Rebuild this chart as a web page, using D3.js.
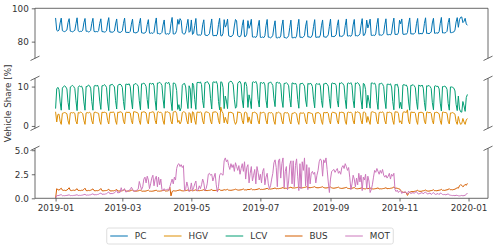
<!DOCTYPE html>
<html>
<head>
<meta charset="utf-8">
<script src="https://cdn.jsdelivr.net/npm/d3@7"></script>
<style>
  body { margin: 0; background: #fff; }
  svg { display: block; font-family: "DejaVu Sans", sans-serif; }
</style>
</head>
<body>
<svg width="500" height="251"></svg>
<script>
// daily values, one row per week (Tue..Mon), starting 2019-01-01
var startDay = "2019-01-01";
var seriesNames = ["PC", "HGV", "LCV", "BUS", "MOT"];
var seriesColors = ["#0173b2", "#de8f05", "#029e73", "#d55e00", "#cc78bc"];
var xTickLabels = ["2019-01", "2019-03", "2019-05", "2019-07", "2019-09", "2019-11", "2020-01"];
var topTicks = [80, 100];
var midTicks = [0, 10];
var botTicks = [0, 2.5, 5.0];

var pc = [
94.2,86.8,86.3,86.9,91.2,94.1,86.6,
86.2,86.0,86.4,87.0,91.5,93.8,86.3,
86.1,85.9,86.3,86.8,90.8,94.3,86.5,
86.0,86.2,86.1,86.9,91.3,93.9,86.2,
86.3,85.8,86.0,86.7,91.0,94.0,86.1,
85.9,86.1,85.8,86.6,90.9,93.7,86.0,
86.0,85.7,85.9,86.5,91.2,94.4,85.8,
85.8,85.6,85.9,86.4,90.6,93.6,85.9,
85.7,85.5,85.8,86.5,91.0,94.1,85.6,
85.5,85.6,85.4,86.2,90.5,93.5,85.5,
85.4,85.2,85.6,86.0,90.8,94.0,85.3,
85.2,85.0,85.3,85.9,90.2,93.2,85.1,
85.0,85.3,84.9,85.6,90.6,94.2,84.8,
84.9,84.6,84.8,85.5,90.0,93.0,84.7,
84.5,84.8,84.4,85.4,90.9,94.5,84.6,
84.6,84.9,86.8,93.3,90.4,93.8,92.6,
85.2,84.7,84.5,85.8,89.8,93.4,85.6,
86.3,93.0,84.3,85.1,89.6,93.9,84.2,
83.9,84.1,83.7,84.6,90.1,93.1,84.0,
83.8,83.6,84.0,84.8,89.5,93.6,83.7,
83.5,83.8,83.4,84.5,90.3,94.0,83.6,
83.4,85.0,93.2,88.7,90.2,93.5,83.5,
83.2,83.0,83.4,84.3,89.4,93.3,92.4,
83.6,83.1,82.9,84.0,89.8,93.1,83.0,
83.1,84.5,92.6,88.0,89.9,93.4,82.8,
82.7,82.9,82.5,83.6,89.2,92.8,82.6,
82.5,82.8,82.4,83.5,89.6,93.3,82.7,
82.6,82.3,82.7,83.8,88.9,92.5,82.4,
82.2,82.6,82.3,83.4,89.4,93.0,82.5,
82.4,82.1,82.5,83.6,88.6,92.9,82.3,
82.3,82.6,82.2,83.3,89.1,93.4,82.6,
82.7,82.4,82.8,83.7,89.3,92.6,82.8,
82.9,82.5,82.7,84.0,89.0,93.2,82.6,
82.6,82.9,82.5,83.9,89.5,93.0,82.9,
82.8,82.6,83.0,84.1,89.2,93.5,83.0,
83.1,83.0,83.3,84.2,89.8,93.1,83.2,
83.3,83.1,83.5,84.4,89.6,93.6,83.4,
83.4,83.6,83.2,84.3,90.0,93.3,83.5,
83.6,83.4,83.8,84.7,89.9,93.8,83.7,
83.9,85.8,92.9,88.2,90.3,93.5,83.8,
83.7,83.9,83.6,84.6,90.4,94.0,83.9,
84.0,83.8,84.1,85.0,90.1,93.7,84.2,
84.1,84.3,84.0,85.1,90.6,94.1,84.3,
84.4,84.2,85.3,92.8,90.7,93.6,84.5,
84.3,84.6,84.4,85.4,90.5,94.2,84.6,
84.7,84.5,84.8,85.5,90.8,93.9,84.6,
84.8,84.9,84.6,85.7,90.9,94.3,84.9,
85.0,84.8,85.1,85.8,91.2,94.0,85.0,
85.1,85.3,85.0,86.0,91.0,94.5,85.2,
85.3,85.2,85.5,86.2,91.4,94.1,85.4,
85.4,85.6,85.8,86.9,91.8,94.4,88.6,
93.2,94.6,94.8,91.4,92.2,94.0,90.6,
89.8];

var hgv = [
3.6,1.0,2.9,3.0,1.2,0.4,3.2,
3.3,3.4,3.3,3.1,1.3,0.4,3.3,
3.4,3.3,3.4,3.2,1.2,0.5,3.4,
3.3,3.5,3.4,3.1,1.4,0.4,3.3,
3.4,3.3,3.5,3.2,1.3,0.5,3.4,
3.5,3.4,3.3,3.2,1.2,0.4,3.5,
3.4,3.5,3.4,3.3,1.4,0.5,3.4,
3.5,3.4,3.6,3.2,1.3,0.4,3.5,
3.4,3.6,3.5,3.3,1.2,0.5,3.4,
3.5,3.4,3.5,3.3,1.4,0.5,3.6,
3.6,3.5,3.4,3.2,1.3,0.4,3.5,
3.5,3.6,3.5,3.3,1.2,0.5,3.4,
3.4,3.5,3.6,3.4,1.4,0.5,3.5,
3.6,3.4,3.5,3.2,1.3,0.4,3.6,
3.5,3.6,3.4,3.3,1.2,0.5,3.5,
3.6,3.7,3.2,0.9,1.4,0.5,1.1,
3.4,3.6,3.5,3.3,1.3,0.5,3.4,
3.1,0.8,3.6,3.4,1.4,0.4,3.5,
3.5,3.4,3.6,3.3,1.3,0.5,3.4,
3.6,3.5,3.4,3.2,1.2,0.5,3.5,
3.5,3.6,3.5,3.3,1.4,0.5,4.8,
3.7,3.2,0.8,2.2,1.3,0.5,3.5,
3.4,3.5,3.3,3.2,1.2,0.4,1.0,
3.6,3.4,3.5,3.2,1.3,0.5,3.4,
3.5,3.3,0.9,2.3,1.2,0.5,3.4,
3.4,3.5,3.3,3.1,1.3,0.5,3.5,
3.3,3.4,3.5,3.2,1.4,0.5,3.3,
3.4,3.3,3.4,3.1,1.2,0.4,3.4,
3.3,3.5,3.3,3.2,1.3,0.5,3.3,
3.4,3.3,3.4,3.0,1.2,0.5,3.2,
3.2,3.4,3.3,3.1,1.3,0.4,3.3,
3.3,3.2,3.4,3.0,1.2,0.5,3.4,
3.4,3.3,3.2,3.1,1.3,0.5,3.3,
3.3,3.4,3.3,3.0,1.2,0.4,3.4,
3.4,3.3,3.5,3.2,1.4,0.5,3.3,
3.5,3.4,3.3,3.2,1.3,0.5,3.5,
3.4,3.5,3.4,3.3,1.2,0.4,3.4,
3.5,3.4,3.5,3.2,1.3,0.5,3.6,
3.4,3.6,3.4,3.3,1.4,0.5,3.5,
3.5,3.3,0.9,2.4,1.3,0.4,3.5,
3.6,3.5,3.4,3.3,1.2,0.5,3.4,
3.5,3.4,3.6,3.2,1.3,0.5,3.5,
3.4,3.5,3.4,3.3,1.4,0.4,3.6,
3.5,3.6,3.2,0.9,1.3,0.5,3.4,
3.6,3.5,3.4,4.1,1.2,0.5,3.5,
3.5,3.4,3.5,3.2,1.3,0.4,3.4,
3.4,3.5,3.4,3.3,1.2,0.5,3.5,
3.5,3.3,3.5,3.2,1.4,0.5,3.4,
3.4,3.5,3.3,3.1,1.3,0.4,3.5,
3.5,3.4,3.4,3.2,1.2,0.5,3.3,
3.3,3.4,3.2,3.0,1.1,0.4,2.4,
1.1,0.4,0.6,1.9,1.0,0.4,1.5,
1.9];

var lcv = [
4.4,9.4,9.8,9.2,6.1,4.0,9.6,
10.0,10.2,9.9,9.4,6.0,4.1,9.9,
10.1,10.3,10.0,9.5,6.4,3.9,9.8,
10.2,10.0,10.1,9.4,6.1,4.0,10.0,
10.0,10.4,10.2,9.6,6.2,4.0,10.1,
10.3,10.1,10.4,9.7,6.3,4.2,10.2,
10.2,10.5,10.3,9.8,6.1,3.9,10.4,
10.4,10.6,10.3,9.9,6.5,4.3,10.3,
10.5,10.6,10.4,9.8,6.2,4.1,10.6,
10.6,10.5,10.7,10.0,6.6,4.3,10.5,
10.6,10.8,10.5,10.1,6.4,4.1,10.7,
10.7,10.9,10.6,10.0,6.7,4.4,10.8,
10.8,10.6,10.9,10.2,6.5,4.0,10.9,
10.9,11.1,10.8,10.3,6.8,4.5,10.9,
11.0,10.8,11.1,10.2,6.3,3.9,10.9,
10.9,10.6,9.0,4.2,5.4,3.8,4.6,
10.3,10.7,10.8,9.9,6.6,4.4,10.2,
9.4,4.5,10.9,10.3,6.7,4.2,11.0,
11.1,10.9,11.2,10.5,6.4,4.6,11.0,
11.0,11.3,10.9,10.4,6.9,4.3,11.1,
11.2,11.0,11.3,10.6,6.2,4.1,11.2,
11.1,9.8,4.4,7.6,6.3,4.4,11.0,
11.2,11.4,11.1,10.5,6.8,4.5,4.9,
10.8,11.2,11.3,10.6,6.6,4.6,11.0,
11.1,10.0,4.7,7.9,6.5,4.4,11.1,
11.2,11.0,11.3,10.6,6.7,4.8,11.0,
11.0,10.8,11.1,10.4,6.5,4.6,10.9,
10.9,11.2,10.8,10.3,6.9,4.9,11.0,
11.1,10.9,11.0,10.5,6.6,4.7,10.8,
10.8,11.0,10.7,10.2,7.0,4.8,10.9,
10.9,10.6,10.9,10.3,6.7,4.5,10.7,
10.7,10.9,10.6,10.1,6.6,4.9,10.8,
10.6,10.8,10.7,10.0,6.8,4.6,10.6,
10.8,10.5,10.8,10.2,6.5,4.7,10.7,
10.7,10.9,10.6,10.1,6.9,4.5,10.8,
10.9,10.7,10.8,10.3,6.4,4.8,10.9,
10.8,11.0,10.7,10.2,6.7,4.4,10.8,
10.9,10.7,11.0,10.3,6.5,4.6,10.9,
10.8,11.0,10.7,10.1,6.6,4.3,10.8,
10.6,9.2,4.6,7.8,6.3,4.5,10.9,
10.9,10.7,10.9,10.2,6.4,4.2,10.7,
10.7,10.9,10.6,10.0,6.6,4.4,10.6,
10.6,10.5,10.7,9.9,6.2,4.1,10.5,
10.4,10.6,9.6,4.5,6.0,4.3,10.4,
10.5,10.3,10.4,9.8,6.1,4.0,10.3,
10.3,10.5,10.2,9.7,6.3,4.2,10.4,
10.2,10.1,10.4,9.6,6.0,3.9,10.2,
10.1,10.3,10.0,9.5,5.9,4.1,10.1,
10.2,10.0,10.1,9.4,5.8,3.8,10.0,
10.0,10.1,9.9,9.3,5.7,4.0,9.9,
9.9,9.8,9.6,8.9,5.5,3.9,7.6,
4.3,3.6,3.5,6.2,5.1,3.7,7.2,
8.0];

var bus = [
0.0,1.0,0.9,0.85,0.95,1.05,0.85,
0.82,0.84,0.8,0.86,0.95,1.1,0.83,
0.8,0.83,0.85,0.82,0.9,1.0,0.81,
0.82,0.8,0.84,0.83,0.92,1.05,0.8,
0.79,0.82,0.8,0.84,0.9,0.98,0.8,
0.78,0.8,0.79,0.82,0.88,1.02,0.79,
0.77,0.79,0.8,0.81,0.86,0.95,0.78,
0.76,0.78,0.77,0.8,0.85,0.92,0.77,
0.75,0.77,0.76,0.79,0.84,0.9,0.76,
0.74,0.76,0.75,0.78,0.83,0.88,0.75,
0.75,0.74,0.76,0.77,0.82,0.86,0.74,
0.73,0.75,0.74,0.76,0.8,0.85,0.74,
0.74,0.73,0.75,0.77,0.81,0.84,0.75,
0.75,0.74,0.76,0.78,0.82,0.86,0.76,
0.76,0.77,0.8,1.15,0.25,0.7,0.78,
0.77,0.76,0.78,0.82,0.84,0.88,0.8,
0.78,0.77,0.79,0.8,0.83,0.87,0.78,
0.79,0.84,0.78,0.8,0.84,0.88,0.79,
0.8,0.79,0.81,0.82,0.85,0.9,0.8,
0.81,0.8,0.82,0.83,0.86,0.91,0.81,
0.82,0.81,0.83,0.84,0.88,0.92,0.82,
0.83,0.84,0.9,0.86,0.89,0.93,0.84,
0.84,0.83,0.85,0.87,0.9,0.95,0.9,
0.86,0.85,0.87,0.88,0.92,0.97,0.87,
0.88,0.87,0.93,0.9,0.94,0.99,0.89,
0.9,0.89,0.91,0.93,0.96,1.01,0.92,
0.93,0.92,0.94,0.96,0.99,1.04,0.95,
0.97,0.96,0.98,1.0,1.03,1.08,0.99,
1.01,1.0,1.02,1.04,1.07,1.12,1.03,
1.05,1.04,1.06,1.08,1.11,1.16,1.07,
1.08,1.07,1.09,1.11,1.14,1.19,1.1,
1.1,1.09,1.11,1.13,1.16,1.2,1.12,
1.11,1.1,1.12,1.14,1.17,1.21,1.12,
1.1,1.09,1.11,1.13,1.16,1.2,1.11,
1.08,1.07,1.09,1.11,1.14,1.18,1.09,
1.06,1.05,1.07,1.09,1.12,1.16,1.07,
1.04,1.03,1.05,1.07,1.1,1.14,1.05,
1.02,1.01,1.03,1.05,1.08,1.12,1.03,
1.0,0.99,1.01,1.03,1.06,1.1,1.01,
0.99,0.98,1.04,1.0,1.04,1.08,0.99,
0.98,0.97,0.99,1.01,1.04,1.08,0.98,
0.99,0.98,1.0,1.02,1.05,1.1,1.0,
1.02,1.01,1.04,1.06,1.1,1.18,1.05,
1.06,1.04,1.0,0.98,0.82,0.7,0.62,
0.6,0.65,0.55,0.3,0.5,0.62,0.68,
0.7,0.68,0.72,0.74,0.78,0.85,0.72,
0.74,0.72,0.76,0.78,0.8,0.88,0.75,
0.76,0.74,0.78,0.8,0.82,0.9,0.78,
0.8,0.78,0.82,0.84,0.86,0.94,0.82,
0.84,0.82,0.86,0.88,0.92,1.0,0.88,
0.9,0.88,0.92,0.95,1.02,1.1,1.05,
1.3,1.42,1.35,1.2,1.3,1.45,1.35,
1.55];

var mot = [
0.0,0.3,0.28,0.3,0.35,0.38,0.27,
0.28,0.27,0.29,0.3,0.33,0.36,0.28,
0.29,0.28,0.3,0.31,0.34,0.37,0.29,
0.31,0.3,0.32,0.34,0.38,0.42,0.32,
0.34,0.33,0.35,0.37,0.42,0.47,0.36,
0.38,0.37,0.4,0.42,0.5,0.55,0.41,
0.43,0.42,0.45,0.48,0.58,0.66,0.47,
0.5,0.48,0.52,0.56,0.7,0.82,0.55,
0.6,0.62,1.1,0.75,0.9,1.0,0.65,
0.7,0.75,0.85,0.9,1.15,0.95,0.72,
0.75,0.8,0.85,0.95,1.75,1.3,0.9,
1.2,2.0,2.2,1.6,2.3,1.9,1.0,
1.5,2.1,2.4,1.3,2.0,2.3,1.2,
2.2,1.4,2.0,0.9,0.8,1.0,0.85,
0.9,0.95,0.8,1.2,1.6,2.0,1.5,
2.2,1.9,3.1,3.5,3.6,3.3,3.5,
3.2,3.4,0.8,1.0,1.7,1.2,0.7,
0.9,1.6,0.8,1.1,1.5,1.8,0.75,
0.9,1.3,1.0,1.4,2.0,1.6,0.8,
1.0,1.5,2.5,2.6,2.4,2.5,1.8,
2.2,2.6,1.4,0.65,1.2,2.4,2.6,
2.5,2.4,3.9,4.2,3.8,4.0,3.4,
3.0,3.6,3.2,3.5,2.8,3.7,3.3,
2.9,3.4,2.5,3.1,3.6,2.8,3.8,
2.0,3.2,3.5,1.6,2.6,3.3,1.8,
2.4,3.0,1.5,3.3,2.7,1.9,2.5,
1.6,2.8,3.1,1.4,2.2,2.6,1.5,
1.0,1.3,2.0,2.6,3.7,4.0,3.2,
1.2,3.9,4.1,2.1,3.6,4.2,1.1,
2.8,3.3,0.9,1.8,3.5,3.9,1.5,
3.9,1.2,3.4,4.1,2.3,0.8,3.6,
1.0,3.8,2.9,4.2,1.3,3.5,0.9,
3.2,1.5,2.6,2.8,2.5,2.7,1.6,
2.4,2.9,3.8,4.1,3.9,2.3,4.0,
3.7,4.2,3.0,1.7,0.6,2.0,2.8,
2.9,3.0,2.7,2.9,3.1,2.6,2.8,
2.5,3.2,3.4,3.1,3.6,3.3,2.9,
3.2,2.2,0.9,1.5,2.4,2.0,1.2,
2.1,1.4,2.6,1.7,2.4,0.8,2.2,
1.9,2.5,1.0,2.3,1.8,0.6,0.9,
1.4,2.2,2.9,2.7,3.1,2.8,2.5,
2.9,2.6,3.0,2.4,2.2,2.4,2.1,
2.3,2.6,2.0,2.5,2.3,2.6,0.9,
0.7,0.85,0.6,0.75,0.8,0.5,0.65,
0.6,0.7,0.55,0.45,0.75,0.6,0.5,
0.55,0.6,0.5,0.65,0.7,0.5,0.45,
0.5,0.55,0.6,0.45,0.6,0.65,0.5,
0.45,0.5,0.55,0.4,0.5,0.6,0.45,
0.4,0.45,0.5,0.38,0.55,0.5,0.4,
0.38,0.4,0.35,0.42,0.45,0.36,0.32,
0.3,0.28,0.3,0.27,0.32,0.3,0.26,
0.25,0.27,0.3,0.26,0.28,0.32,0.4,
0.55];

var svg = d3.select("svg");
var left = 35, right = 488;
var textColor = "#333", spineColor = "#444";

var day0 = d3.utcParse("%Y-%m-%d")(startDay);
var dates = pc.map(function (d, i) { return d3.utcDay.offset(day0, i); });
var allSeries = [pc, hgv, lcv, bus, mot];

// 5% padding on both ends like matplotlib
var first = dates[0], last = dates[dates.length - 1];
var pad = (last - first) * 0.05;
var x = d3.scaleUtc()
  .domain([new Date(+first - pad), new Date(+last + pad)])
  .range([left, right]);

var panels = [
  { top: 8.3, bottom: 58.3, domain: [70, 100], ticks: topTicks, fmt: d3.format("d"), series: [0] },
  { top: 78.3, bottom: 128.3, domain: [-0.6, 12.1], ticks: midTicks, fmt: d3.format("d"), series: [1, 2] },
  { top: 148.3, bottom: 198.3, domain: [0, 5.2], ticks: botTicks, fmt: d3.format(".1f"), series: [3, 4] }
];

panels.forEach(function (p, pi) {
  var y = d3.scaleLinear().domain(p.domain).range([p.bottom, p.top]);
  p.y = y;

  svg.append("clipPath").attr("id", "clip" + pi)
    .append("rect")
    .attr("x", left).attr("y", p.top)
    .attr("width", right - left).attr("height", p.bottom - p.top);

  var g = svg.append("g").attr("clip-path", "url(#clip" + pi + ")");
  var line = d3.line()
    .x(function (d, i) { return x(dates[i]); })
    .y(function (d) { return y(d); });

  p.series.forEach(function (si) {
    g.append("path")
      .datum(allSeries[si])
      .attr("d", line)
      .attr("fill", "none")
      .attr("stroke", seriesColors[si])
      .attr("stroke-width", 1)
      .attr("stroke-linejoin", "round");
  });

  // left axis
  var ax = svg.append("g")
    .attr("transform", "translate(" + left + ",0)")
    .call(d3.axisLeft(y).tickValues(p.ticks).tickFormat(p.fmt).tickSize(3.2).tickPadding(3));
  ax.select(".domain").remove();
  ax.selectAll("line").attr("stroke", spineColor).attr("stroke-width", 0.8);
  ax.selectAll("text").attr("fill", textColor).style("font-size", "8.8px")
    .style("font-family", "'DejaVu Sans', sans-serif");

  // spines
  var sp = svg.append("g").attr("stroke", spineColor).attr("stroke-width", 0.8).attr("fill", "none");
  sp.append("line").attr("x1", left).attr("x2", left).attr("y1", p.top).attr("y2", p.bottom);
  sp.append("line").attr("x1", right).attr("x2", right).attr("y1", p.top).attr("y2", p.bottom);
  if (pi === 0) {
    sp.append("line").attr("x1", left).attr("x2", right).attr("y1", p.top).attr("y2", p.top);
  }
  if (pi === panels.length - 1) {
    sp.append("line").attr("x1", left).attr("x2", right).attr("y1", p.bottom).attr("y2", p.bottom);
  }

  // break marks
  var marks = [];
  if (pi > 0) marks.push(p.top);
  if (pi < panels.length - 1) marks.push(p.bottom);
  marks.forEach(function (yy) {
    [left, right].forEach(function (xx) {
      sp.append("line")
        .attr("x1", xx - 4.5).attr("y1", yy + 2.2)
        .attr("x2", xx + 4.5).attr("y2", yy - 2.2);
    });
  });
});

// x axis on bottom panel
var xTickDates = xTickLabels.map(function (s) { return d3.utcParse("%Y-%m")(s); });
var bottomPanel = panels[panels.length - 1];
var xa = svg.append("g")
  .attr("transform", "translate(0," + bottomPanel.bottom + ")")
  .call(d3.axisBottom(x).tickValues(xTickDates).tickFormat(d3.utcFormat("%Y-%m")).tickSize(3.2).tickPadding(3));
xa.select(".domain").remove();
xa.selectAll("line").attr("stroke", spineColor).attr("stroke-width", 0.8);
xa.selectAll("text").attr("fill", textColor).style("font-size", "8.8px")
  .style("font-family", "'DejaVu Sans', sans-serif");

// y label
svg.append("text")
  .attr("transform", "translate(11," + ((panels[1].top + panels[1].bottom) / 2) + ") rotate(-90)")
  .attr("text-anchor", "middle")
  .attr("fill", textColor)
  .style("font-size", "8.8px")
  .text("Vehicle Share [%]");

// legend
var fs = 8.8;
var handleLen = 2 * fs, handlePad = 0.8 * fs, colSpace = 2 * fs, borderPad = 0.4 * fs;
var leg = svg.append("g");
var box = leg.append("rect");
var items = leg.append("g");
var cx = 0;
var legendY = 236;
seriesNames.forEach(function (name, i) {
  items.append("line")
    .attr("x1", cx).attr("x2", cx + handleLen)
    .attr("y1", legendY).attr("y2", legendY)
    .attr("stroke", seriesColors[i]).attr("stroke-width", 1);
  var t = items.append("text")
    .attr("x", cx + handleLen + handlePad)
    .attr("y", legendY)
    .attr("dy", "0.35em")
    .attr("fill", textColor)
    .style("font-size", fs + "px")
    .text(name);
  cx += handleLen + handlePad + t.node().getComputedTextLength();
  if (i < seriesNames.length - 1) cx += colSpace;
});
var totalW = cx + 2 * borderPad;
var legLeft = 250 - totalW / 2;
items.attr("transform", "translate(" + (legLeft + borderPad) + ",0)");
box.attr("x", legLeft).attr("y", 228).attr("width", totalW).attr("height", 16)
  .attr("rx", 2).attr("fill", "#fff").attr("stroke", "#d6d6d6").attr("stroke-width", 0.8);
</script>
</body>
</html>
